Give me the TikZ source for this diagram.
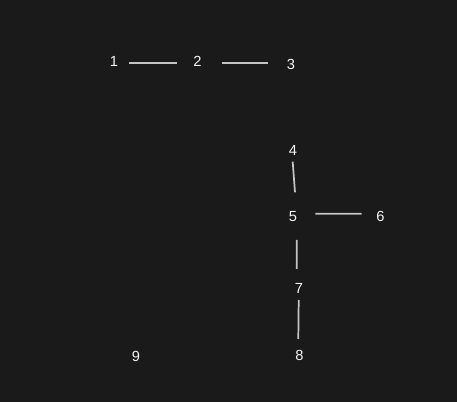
\documentclass[tikz,border=0pt]{standalone}
\usepackage{fontspec}
\setmainfont{Liberation Sans}
\definecolor{bg}{HTML}{1A1A1A}
\definecolor{lbl}{HTML}{F4F4F4}
\definecolor{edgec}{HTML}{C4C4C4}
\begin{document}
\begin{tikzpicture}[x=0.75pt,y=-0.75pt,
  lbl/.style={text=lbl,inner sep=0pt,font=\fontsize{11}{13}\selectfont},
  edge/.style={draw=edgec,line width=1.3pt}]
\fill[bg] (0,0) rectangle (457,402);
\useasboundingbox (0,0) rectangle (457,402);
\node[lbl] (n1) at (114,61) {1};
\node[lbl] (n2) at (197.5,61) {2};
\node[lbl] (n3) at (291,64) {3};
\node[lbl] (n4) at (293,150) {4};
\node[lbl] (n5) at (293,216.5) {5};
\node[lbl] (n6) at (380.5,216.7) {6};
\node[lbl] (n7) at (299,288) {7};
\node[lbl] (n8) at (299.5,355.5) {8};
\node[lbl] (n9) at (136,356) {9};
\draw[edge] ([shift={(15,2.3)}]n1.center) -- ([shift={(-20.5,2.3)}]n2.center);
\draw[edge] ([shift={(24.5,2)}]n2.center) -- ([shift={(-23,-1)}]n3.center);
\draw[edge] ([shift={(-0.3,11.7)}]n4.center) -- ([shift={(2,-24.2)}]n5.center);
\draw[edge] ([shift={(22.3,-2.8)}]n5.center) -- ([shift={(-18.8,-3)}]n6.center);
\draw[edge] ([shift={(3.7,23.5)}]n5.center) -- ([shift={(-2.3,-19)}]n7.center);
\draw[edge] ([shift={(-0.3,12)}]n7.center) -- ([shift={(-1.2,-16.5)}]n8.center);
\end{tikzpicture}
\end{document}
